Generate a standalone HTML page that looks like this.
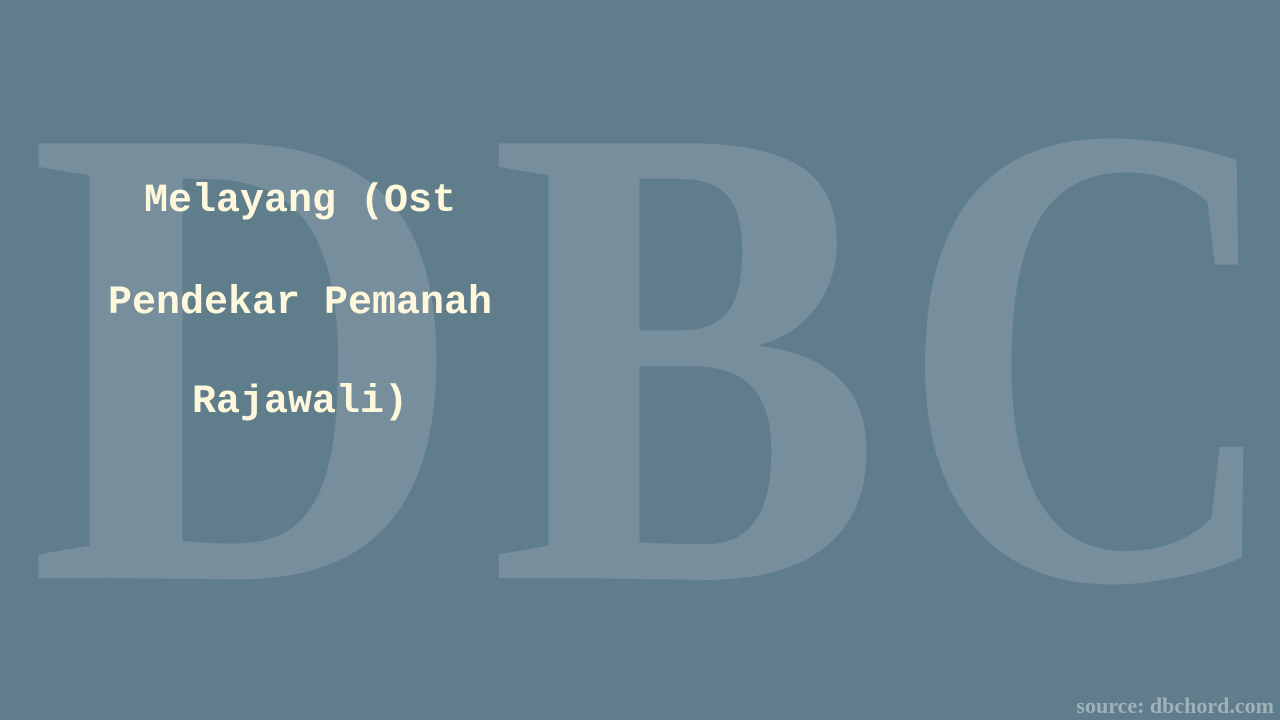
<!DOCTYPE html>
<html><head><meta charset="utf-8"><style>
html,body{margin:0;padding:0;width:1280px;height:720px;overflow:hidden;background:#607d8b;}
svg{position:absolute;left:0;top:0;}
.t{position:absolute;left:60px;width:480px;text-align:center;font-family:"Liberation Mono",monospace;font-weight:bold;font-size:40px;color:#fff8dc;line-height:40px;}
.s{position:absolute;right:6px;top:693px;font-family:"Liberation Serif",serif;font-weight:bold;font-size:22px;color:#9fb1bb;}
</style></head><body>
<svg width="1280" height="720">
<g fill="#778f9c" font-family="Liberation Serif, serif" font-weight="bold" font-size="664">
<text x="28" y="578" textLength="438" lengthAdjust="spacingAndGlyphs">D</text>
<text x="489" y="578" textLength="394" lengthAdjust="spacingAndGlyphs">B</text>
<text x="899" y="578" textLength="385" lengthAdjust="spacingAndGlyphs">C</text>
</g>
</svg>
<div class="t" style="top:182px">Melayang (Ost</div>
<div class="t" style="top:284px">Pendekar Pemanah</div>
<div class="t" style="top:383px">Rajawali)</div>
<div class="s">source: dbchord.com</div>
</body></html>
